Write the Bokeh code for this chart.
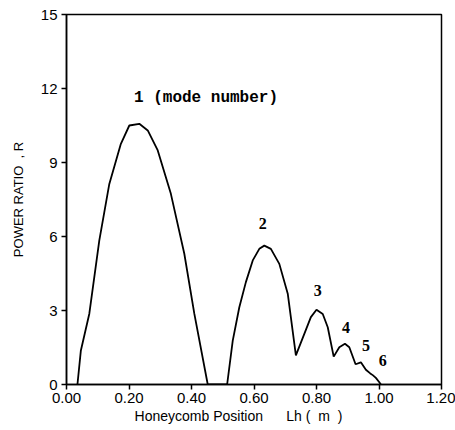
from bokeh.plotting import figure
from bokeh.models import Range1d, FixedTicker, ColumnDataSource
from bokeh.core.properties import value
from bokeh.embed import file_html
from bokeh.resources import INLINE

# Curve: honeycomb position Lh (m) vs power ratio R
lh = [0.035, 0.046, 0.073, 0.105, 0.137, 0.174, 0.201, 0.233, 0.26, 0.292,
      0.334, 0.377, 0.409, 0.452,
      0.514, 0.532, 0.553, 0.574, 0.596, 0.617, 0.633, 0.654, 0.681, 0.708, 0.734,
      0.761, 0.782, 0.80, 0.82, 0.836, 0.855,
      0.873, 0.891, 0.905, 0.925, 0.942, 0.958, 0.972, 0.98, 0.99, 1.001, 1.006]
ratio = [0.0, 1.38, 2.87, 5.84, 8.13, 9.76, 10.5, 10.57, 10.3, 9.49,
         7.73, 5.3, 2.87, 0.0,
         0.0, 1.78, 3.13, 4.15, 5.03, 5.5, 5.63, 5.5, 4.89, 3.68, 1.18,
         2.05, 2.73, 3.03, 2.86, 2.32, 1.13,
         1.51, 1.65, 1.51, 0.82, 0.9, 0.6, 0.45, 0.38, 0.27, 0.09, 0.0]

x_ticks = [0.0, 0.2, 0.4, 0.6, 0.8, 1.0, 1.2]
x_tick_labels = ["0.00", "0.20", "0.40", "0.60", "0.80", "1.00", "1.20"]
y_ticks = [0, 3, 6, 9, 12, 15]

mode_labels = ["1 (mode number)", "2", "3", "4", "5", "6"]
mode_x = [0.216, 0.628, 0.804, 0.894, 0.958, 1.012]
mode_y = [11.6, 6.53, 3.82, 2.31, 1.58, 0.97]

NB = "\u00a0"

p = figure(width=455, height=430, output_backend="svg", toolbar_location=None,
           x_range=Range1d(0, 1.2), y_range=Range1d(0, 15),
           min_border_left=66, min_border_right=14, min_border_top=14,
           min_border_bottom=46)
p.background_fill_color = "white"
p.border_fill_color = "white"
p.outline_line_color = "black"
p.outline_line_width = 1.5
p.grid.visible = False

p.line(lh, ratio, line_color="black", line_width=1.8)

src = ColumnDataSource(dict(x=mode_x[:1], y=mode_y[:1], t=mode_labels[:1]))
p.text("x", "y", "t", source=src, text_font=value("Liberation Mono"),
       text_font_style="bold", text_font_size="16px", text_color="black",
       text_baseline="middle", text_align="left")
src2 = ColumnDataSource(dict(x=mode_x[1:], y=mode_y[1:], t=mode_labels[1:]))
p.text("x", "y", "t", source=src2, text_font=value("Liberation Serif"),
       text_font_style="bold", text_font_size="16px", text_color="black",
       text_baseline="middle", text_align="center")

p.xaxis.ticker = FixedTicker(ticks=x_ticks)
p.xaxis.major_label_overrides = {t: l for t, l in zip(x_ticks, x_tick_labels)}
p.yaxis.ticker = FixedTicker(ticks=y_ticks)

for ax in (p.xaxis[0], p.yaxis[0]):
    ax.axis_line_color = "black"
    ax.axis_line_width = 1.5
    ax.major_tick_line_color = "black"
    ax.major_tick_line_width = 1.5
    ax.major_tick_out = 5
    ax.major_tick_in = 0
    ax.minor_tick_line_color = None
    ax.major_label_text_font = "Liberation Sans"
    ax.major_label_text_font_size = "15px"
    ax.major_label_text_color = "black"
    ax.axis_label_text_font = "Liberation Sans"
    ax.axis_label_text_font_style = "normal"
    ax.axis_label_text_color = "black"

p.xaxis.major_label_standoff = 3
p.yaxis.major_label_standoff = 4
p.xaxis.axis_label = ("Honeycomb" + NB + "Position" + NB * 6 + "Lh" + NB + "(" + NB * 2
                      + "m" + NB * 2 + ")" + NB * 8)
p.xaxis.axis_label_text_font_size = "14px"
p.xaxis.axis_label_standoff = 2
p.yaxis.axis_label = "POWER" + NB + "RATIO" + NB * 2 + "," + NB + "R"
p.yaxis.axis_label_text_font_size = "13px"
p.yaxis.axis_label_standoff = 12

open("out.html", "w").write(file_html(p, INLINE))
